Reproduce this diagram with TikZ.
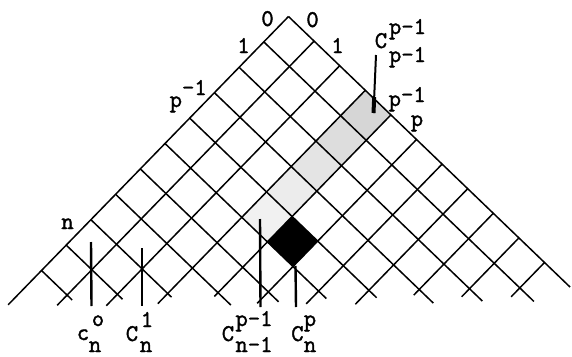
\documentclass[tikz,border=0pt]{standalone}
\usepackage{fontspec}
\newfontfamily\labfont[FakeBold=1.6]{Latin Modern Mono}
\begin{document}
\begin{tikzpicture}[x=1pt,y=-1pt,
  grid/.style={line width=1.5pt, line cap=butt},
  marker/.style={line width=2.4pt},
  lab/.style={font=\labfont\fontsize{24}{24}\selectfont, inner sep=0pt, anchor=base},
  cell/.style={draw=none}]
\useasboundingbox (0,0) rectangle (572,356);
\begin{scope}[shift={(288.5,16.5)}, x={(-24.7pt,-25.4pt)}, y={(25.6pt,-24.6pt)}]
  % shaded cells (hockey stick)
  \fill[cell, gray!32] (0,3)--(1,3)--(1,4)--(0,4)--cycle;
  \fill[cell, gray!27] (1,3)--(2,3)--(2,4)--(1,4)--cycle;
  \fill[cell, gray!21] (2,3)--(3,3)--(3,4)--(2,4)--cycle;
  \fill[cell, gray!15] (3,3)--(4,3)--(4,4)--(3,4)--cycle;
  \fill[cell, gray!11] (4,3)--(5,3)--(5,4)--(4,4)--cycle;
  \fill[cell, black] (4,4)--(5,4)--(5,5)--(4,5)--cycle;
  % lattice lines
  \foreach \j/\e in {0/11.35,1/10.4,2/9.45,3/8.4,4/7.15,5/6.45,6/5.5,7/4.55,8/3.22,9/2.32,10/1.35}
    \draw[grid] (0,\j) -- (\e,\j);
  \foreach \i/\e in {0/11,1/10.55,2/9.5,3/8.55,4/7.3,5/6.3,6/5.4,7/4.5,8/3.15,9/2.2,10/1.2}
    \draw[grid] (\i,0) -- (\i,\e);
\end{scope}
% marker lines
\coordinate (m0t) at (91,242);  \coordinate (m0b) at (91.5,306);
\coordinate (m1t) at (142,248); \coordinate (m1b) at (142,306);
\coordinate (m2t) at (260,219); \coordinate (m2b) at (260.5,307);
\coordinate (m3t) at (295.5,266); \coordinate (m3b) at (296,307);
\coordinate (m4t) at (376,55);  \coordinate (m4m) at (374.2,97); \coordinate (m4b) at (373.5,113);
\draw[marker] (m0t) -- (m0b);
\draw[marker] (m1t) -- (m1b);
\draw[marker] (m2t) -- (m2b);
\draw[marker] (m3t) -- (m3b);
\draw[line width=2pt] (m4t) -- (m4b);
\draw[line width=4pt] (m4m) -- (m4b);
% edge labels
\node[lab] (l0a) at (267.5,26) {0};
\node[lab] (l0b) at (312.5,27) {0};
\node[lab] (l1a) at (243.5,53) {1};
\node[lab] (l1b) at (337.5,53) {1};
\node[lab] (lpa) at (188.2,107) {p\raisebox{12pt}{-1}};
\node[lab] (rpa) at (407.2,106) {p\raisebox{4pt}{-1}};
\node[lab] (rp) at (417,126) {p};
\node[lab] (ln) at (67.5,229) {n};
% top-right label
\node[lab] (tc) at (381,48) {C};
\node[lab] (tsup) at (407.5,34) {p-1};
\node[lab] (tsub) at (407.5,62) {p-1};
% bottom labels
\node[lab] (b0c) at (83,340) {c};
\node[lab] (b0s) at (98,326) {o};
\node[lab] (b0n) at (95,352) {n};
\node[lab] (b1c) at (132,341) {C};
\node[lab] (b1s) at (147,327) {1};
\node[lab] (b1n) at (146,352) {n};
\node[lab] (b2c) at (228,341) {C};
\node[lab] (b2s) at (254,326) {p-1};
\node[lab] (b2n) at (254,352) {n-1};
\node[lab] (b3c) at (297.5,341) {C};
\node[lab] (b3s) at (310,326) {p};
\node[lab] (b3n) at (310,352) {n};
\end{tikzpicture}
\end{document}
